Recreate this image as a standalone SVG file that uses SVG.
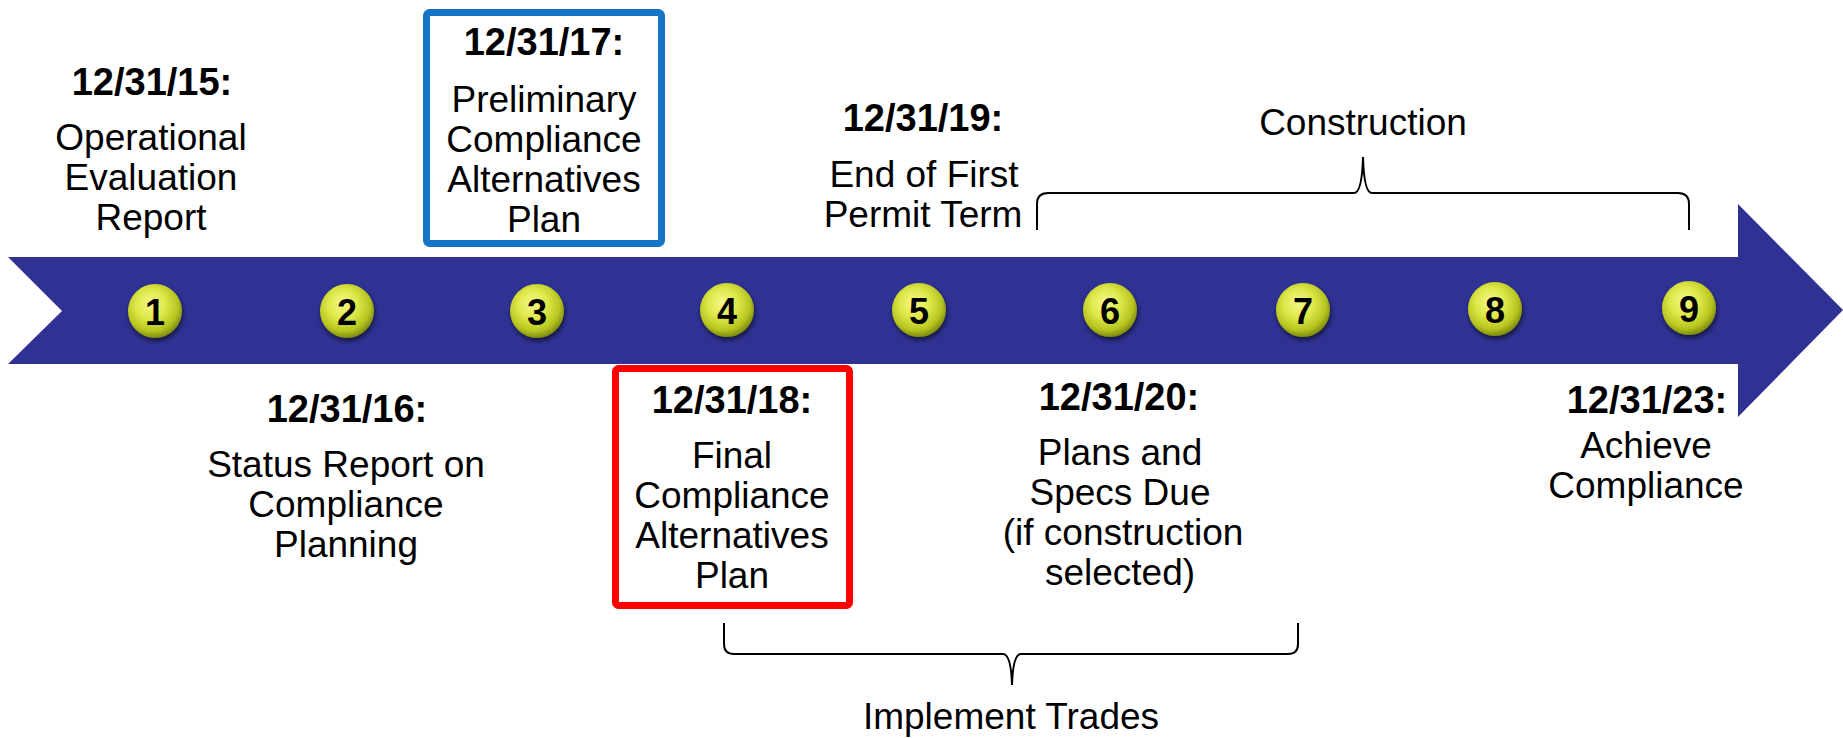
<svg xmlns="http://www.w3.org/2000/svg" width="1843" height="738" viewBox="0 0 1843 738">
<style>
text{font-family:"Liberation Sans",Arial,sans-serif;font-size:37px;fill:#000;text-anchor:middle}
.b{font-weight:bold;font-size:38px}
.num{font-weight:bold;font-size:36px}
.brace{fill:none;stroke:#000;stroke-width:2}
.box{fill:#fff;stroke-width:7}
</style>
<defs>
<radialGradient id="ball" cx="0.45" cy="0.4" r="0.6" fx="0.4" fy="0.35">
<stop offset="0" stop-color="#f4f88a"/>
<stop offset="0.45" stop-color="#dfe84a"/>
<stop offset="0.8" stop-color="#b8c620"/>
<stop offset="1" stop-color="#7f8c10"/>
</radialGradient>
<filter id="sh" x="-30%" y="-30%" width="160%" height="170%">
<feGaussianBlur in="SourceAlpha" stdDeviation="2.5"/>
<feOffset dx="1" dy="3" result="o"/>
<feComponentTransfer><feFuncA type="linear" slope="0.6"/></feComponentTransfer>
<feMerge><feMergeNode/><feMergeNode in="SourceGraphic"/></feMerge>
</filter>
</defs>
<g id="timeline-arrow">
<path d="M8,257 L1738,257 L1738,204 L1843,310 L1738,417 L1738,364 L8,364 L62,311 Z" fill="#2F3293"/>
</g>
<g id="markers">
<g id="m1"><circle cx="155" cy="311" r="27" fill="url(#ball)" filter="url(#sh)"/><text class="num" x="155" y="325">1</text></g>
<g id="m2"><circle cx="347" cy="311" r="27" fill="url(#ball)" filter="url(#sh)"/><text class="num" x="347" y="325">2</text></g>
<g id="m3"><circle cx="537" cy="311" r="27" fill="url(#ball)" filter="url(#sh)"/><text class="num" x="537" y="325">3</text></g>
<g id="m4"><circle cx="727" cy="310" r="27" fill="url(#ball)" filter="url(#sh)"/><text class="num" x="727" y="324">4</text></g>
<g id="m5"><circle cx="919" cy="310" r="27" fill="url(#ball)" filter="url(#sh)"/><text class="num" x="919" y="324">5</text></g>
<g id="m6"><circle cx="1110" cy="310" r="27" fill="url(#ball)" filter="url(#sh)"/><text class="num" x="1110" y="324">6</text></g>
<g id="m7"><circle cx="1303" cy="310" r="27" fill="url(#ball)" filter="url(#sh)"/><text class="num" x="1303" y="324">7</text></g>
<g id="m8"><circle cx="1495" cy="309" r="27" fill="url(#ball)" filter="url(#sh)"/><text class="num" x="1495" y="323">8</text></g>
<g id="m9"><circle cx="1689" cy="308" r="27" fill="url(#ball)" filter="url(#sh)"/><text class="num" x="1689" y="322">9</text></g>
</g>
<g id="n1">
<text class="b" x="152" y="95">12/31/15:</text>
<text x="151" y="150">Operational</text>
<text x="151" y="190">Evaluation</text>
<text x="151" y="230">Report</text>
</g>
<g id="n2">
<text class="b" x="347" y="422">12/31/16:</text>
<text x="346" y="477">Status Report on</text>
<text x="346" y="517">Compliance</text>
<text x="346" y="557">Planning</text>
</g>
<g id="n3">
<rect class="box" x="426.5" y="12.5" width="235" height="231" rx="3" stroke="#1874C4"/>
<text class="b" x="544" y="55">12/31/17:</text>
<text x="544" y="112">Preliminary</text>
<text x="544" y="152">Compliance</text>
<text x="544" y="192">Alternatives</text>
<text x="544" y="232">Plan</text>
</g>
<g id="n4">
<rect class="box" x="615.5" y="368.5" width="234" height="237" rx="3" stroke="#FF0000"/>
<text class="b" x="732" y="413">12/31/18:</text>
<text x="732" y="468">Final</text>
<text x="732" y="508">Compliance</text>
<text x="732" y="548">Alternatives</text>
<text x="732" y="588">Plan</text>
</g>
<g id="n5">
<text class="b" x="923" y="131">12/31/19:</text>
<text x="924" y="187">End of First</text>
<text x="923" y="227">Permit Term</text>
</g>
<g id="n6">
<text class="b" x="1119" y="410">12/31/20:</text>
<text x="1120" y="465">Plans and</text>
<text x="1120" y="505">Specs Due</text>
<text x="1123" y="545">(if construction</text>
<text x="1120" y="585">selected)</text>
</g>
<g id="n7">
<text class="b" x="1647" y="413">12/31/23:</text>
<text x="1646" y="458">Achieve</text>
<text x="1646" y="498">Compliance</text>
</g>
<g id="n-construction">
<text x="1363" y="135">Construction</text>
</g>
<g id="n-trades">
<text x="1011" y="729">Implement Trades</text>
</g>
<g id="connectors">
<path class="brace" d="M1037,230 L1037,204 Q1037,193 1048,193 L1354,193 Q1362,193 1363,157 Q1364,193 1372,193 L1678,193 Q1689,193 1689,204 L1689,230"/>
<path class="brace" d="M724,623 L724,644 Q724,654 734,654 L1003,654 Q1011,654 1012,685 Q1013,654 1021,654 L1288,654 Q1298,654 1298,644 L1298,623"/>
</g>
</svg>
